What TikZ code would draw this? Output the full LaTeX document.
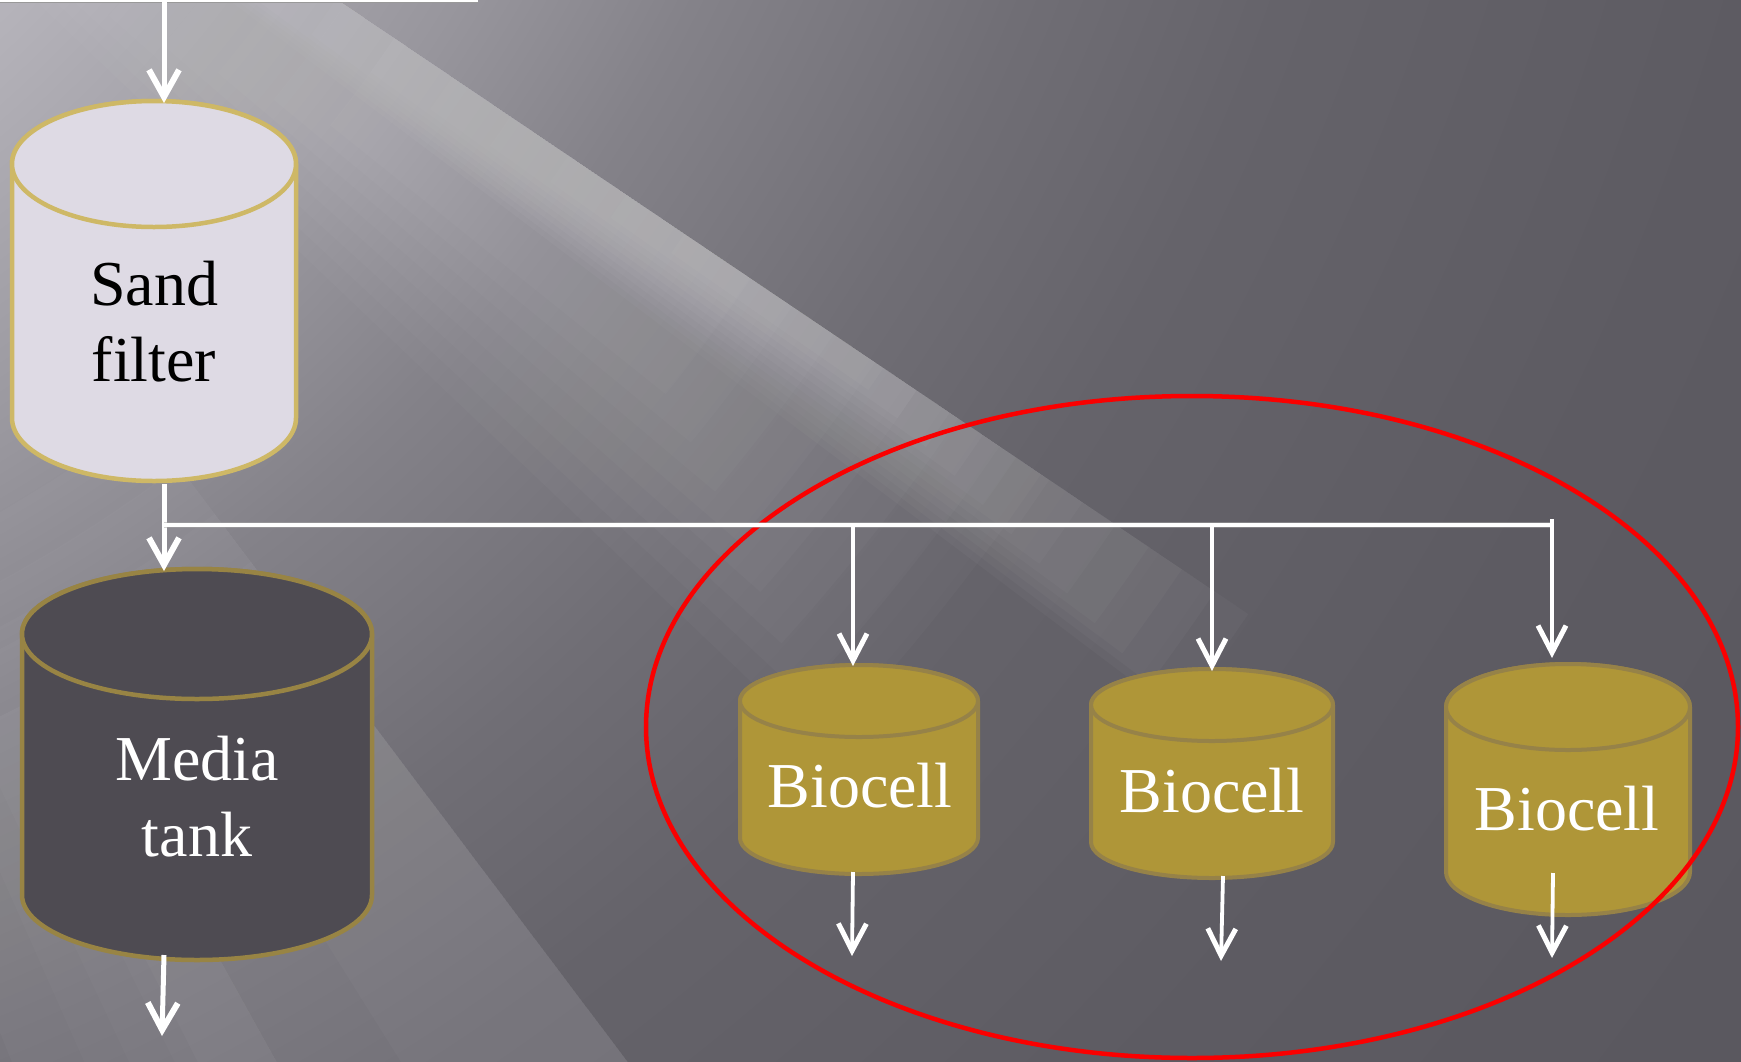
\documentclass[tikz,border=0pt]{standalone}
\usepackage{fontspec}
\setmainfont{Liberation Serif}
\usetikzlibrary{arrows.meta,calc,shapes.geometric}

% background tones, light near the upper-left light source, dark to the right
\definecolor{bg0}{RGB}{192,190,197}
\definecolor{bg1}{RGB}{181,179,186}
\definecolor{bg2}{RGB}{152,150,157}
\definecolor{bg3}{RGB}{132,130,137}
\definecolor{bg4}{RGB}{112,110,117}
\definecolor{bg5}{RGB}{101,99,106}
\definecolor{bg6}{RGB}{93,91,98}
\definecolor{bg7}{RGB}{89,87,94}
% tank colours
\definecolor{sandfill}{RGB}{222,218,228}
\definecolor{sanddraw}{RGB}{206,184,102}
\definecolor{mediafill}{RGB}{78,75,82}
\definecolor{mediadraw}{RGB}{152,132,68}
\definecolor{biofill}{RGB}{175,150,56}
\definecolor{biodraw}{RGB}{150,130,72}
\definecolor{ringred}{RGB}{250,0,0}

\pgfdeclareradialshading{bgshade}{\pgfpointorigin}{%
  color(0bp)=(bg0); color(8.06bp)=(bg1); color(10.89bp)=(bg2);
  color(12.58bp)=(bg3); color(15bp)=(bg4); color(16.94bp)=(bg5);
  color(20.56bp)=(bg6); color(25bp)=(bg7); color(50bp)=(bg7)}

% light ray: annular sector seen from the light source at (-700,-700)
% #1,#2 angles, #3,#4 radii, #5 opacity
\newcommand\raysector[5]{%
  \fill[white, opacity=#5]
    plot[domain=#1:#2, samples=14] ({-700+(#4)*cos(\x)},{-700+(#4)*sin(\x)})
    -- plot[domain=#2:#1, samples=14] ({-700+(#3)*cos(\x)},{-700+(#3)*sin(\x)})
    -- cycle;}

% upright tank: #1 centre x, #2 top y, #3 bottom y, #4 x radius, #5 y radius,
% #6 fill, #7 outline, #8 outline width
\newcommand\tankbody[8]{%
  \pgfmathsetmacro\tkTop{#2+#5}%
  \pgfmathsetmacro\tkBot{#3-#5}%
  \filldraw[fill=#6, draw=#7, line width=#8, line join=round]
    (#1-#4,\tkTop) -- (#1-#4,\tkBot)
    arc[start angle=180, end angle=360, x radius=#4pt, y radius=#5pt]
    -- (#1+#4,\tkTop)
    arc[start angle=0, end angle=180, x radius=#4pt, y radius=#5pt] -- cycle;
  \filldraw[fill=#6, draw=#7, line width=#8] (#1,\tkTop)
    ellipse[x radius=#4pt, y radius=#5pt];}

\tikzset{
  % labels are placed by the baseline of their last line
  tanklabel/.style={font=\fontsize{64}{76}\selectfont, align=center,
    inner sep=0pt, anchor=base},
  flow/.style={draw=white, line width=5pt,
    -{Straight Barb[length=27pt, width=30pt, line width=6pt]}},
  feed/.style={draw=white, line width=3.8pt,
    -{Straight Barb[length=27pt, width=28pt, line width=5pt]}},
  bus/.style={draw=white, line width=4.6pt},
  busedge/.style={draw=black!35, line width=6.2pt, opacity=0.5},
  intakebox/.style={draw=white, line width=2pt, minimum width=500pt,
    minimum height=60pt, inner sep=0pt, anchor=south east},
  groupring/.style={ellipse, draw=ringred, line width=4.5pt, inner sep=0pt,
    minimum width=1092pt, minimum height=662pt},
}

\begin{document}
\begin{tikzpicture}[x=1pt, y=-1pt]
\useasboundingbox (0,0) rectangle (1741,1061);

% ---- backdrop -------------------------------------------------------
\begin{scope}
  \clip (0,0) rectangle (1741,1061);
  \fill[bg7] (0,0) rectangle (1741,1061);
  \shade[shading=bgshade] (-700,-700) circle (3100);
  % main bright streak: sharp upper edge, soft towards the lower left
  \foreach \i in {0,...,11}{%
    \pgfmathsetmacro\rayEnd{37.0-0.2*\i}%
    \pgfmathsetmacro\rayIn{900+70*\i}%
    \pgfmathsetmacro\rayOut{2350-40*\i}%
    \raysector{34.0}{\rayEnd}{\rayIn}{\rayOut}{0.028}}
  % broad shoulder of the streak
  \foreach \i in {0,...,7}{%
    \pgfmathsetmacro\rayEnd{43.6-0.7*\i}%
    \pgfmathsetmacro\rayIn{900+60*\i}%
    \pgfmathsetmacro\rayOut{2100-50*\i}%
    \raysector{34.0}{\rayEnd}{\rayIn}{\rayOut}{0.025}}
  % faint streaks in the lower left
  \foreach \i in {0,...,5}{%
    \pgfmathsetmacro\rayEnd{83-5*\i}%
    \pgfmathsetmacro\rayIn{1400+60*\i}%
    \raysector{53}{\rayEnd}{\rayIn}{3000}{0.022}}
  \foreach \i in {0,...,2}{%
    \pgfmathsetmacro\rayEnd{66-1.2*\i}%
    \pgfmathsetmacro\rayIn{1500+80*\i}%
    \raysector{61}{\rayEnd}{\rayIn}{3000}{0.02}}
\end{scope}

% ---- intake box leaving the top edge --------------------------------
\node[intakebox] (intake) at (478,2) {};
\draw[black!40, line width=0.8pt] (intake.south west) -- (intake.south east);

% ---- tanks ------------------------------------------------------------
\tankbody{154}{101}{481}{142}{63}{sandfill}{sanddraw}{4.5pt}
\node[tanklabel, text=black] (sand) at (154,381) {Sand\\filter};

\tankbody{197}{569}{960}{175}{65}{mediafill}{mediadraw}{4.5pt}
\node[tanklabel, text=white] (media) at (197,856) {Media\\tank};

\tankbody{859}{665}{874}{119}{36}{biofill}{biodraw}{4pt}
\node[tanklabel, text=white] (bio1) at (860,807) {Biocell};

\tankbody{1212}{669}{878}{121}{36}{biofill}{biodraw}{4pt}
\node[tanklabel, text=white] (bio2) at (1212,812) {Biocell};

\tankbody{1568}{664}{915}{122}{43}{biofill}{biodraw}{4pt}
\node[tanklabel, text=white] (bio3) at (1567,830) {Biocell};

% ring round the three biocells
\node[groupring] (biogroup) at (1192,727) {};

% ---- pipe ends ----------------------------------------------------------
\coordinate (intake-out) at (164,1);
\coordinate (sand-in)    at (164,103);
\coordinate (sand-out)   at (164,484);
\coordinate (split)      at (164,525);
\coordinate (media-in)   at (164,571);
\coordinate (media-out)  at (164,955);
\coordinate (media-drain) at (162,1036);
\coordinate (bus-end)    at (1552,525);
\coordinate (bio1-in)    at (853,666);
\coordinate (bio1-out)   at (853,872);
\coordinate (bio1-drain) at (852,956);
\coordinate (bio2-in)    at (1212,671);
\coordinate (bio2-out)   at (1223,876);
\coordinate (bio2-drain) at (1221,961);
\coordinate (bio3-in)    at (1552,658);
\coordinate (bio3-out)   at (1553,873);
\coordinate (bio3-drain) at (1552,958);

% ---- flows --------------------------------------------------------------
\draw[flow] (intake-out) -- (sand-in);
\draw[flow] (sand-out) -- (media-in);
\draw[flow] (media-out) -- (media-drain);

\draw[busedge] (split) -- (bus-end);
\draw[bus] (split) -- (bus-end);
\draw[feed] (bio1-in |- split) -- (bio1-in);
\draw[feed] (bio2-in |- split) -- (bio2-in);
\draw[feed] ($(bus-end)+(0,-6)$) -- (bio3-in);

\draw[feed] (bio1-out) -- (bio1-drain);
\draw[feed] (bio2-out) -- (bio2-drain);
\draw[feed] (bio3-out) -- (bio3-drain);
\end{tikzpicture}
\end{document}
